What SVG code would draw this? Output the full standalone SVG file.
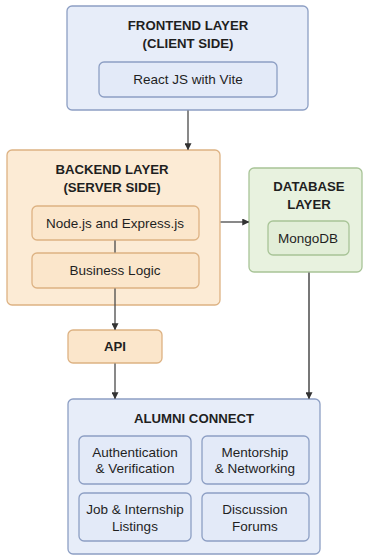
<svg xmlns="http://www.w3.org/2000/svg" width="365" height="556" viewBox="0 0 365 556">
<defs>
<style>
text{font-family:"Liberation Sans",Arial,sans-serif;fill:#1f1f1f;text-anchor:middle}
.t{font-weight:bold;font-size:13.2px}
.s{font-size:13.5px}
.blue{fill:#e7edf9;stroke:#8d9fc4;stroke-width:1.3}
.blue2{fill:#e3eaf8;stroke:#8d9fc4;stroke-width:1.3}
.org{fill:#fcebd5;stroke:#ddb283;stroke-width:1.3}
.org2{fill:#fbe6cb;stroke:#ddb283;stroke-width:1.3}
.grn{fill:#e8f2df;stroke:#a8c497;stroke-width:1.3}
.grn2{fill:#e2eed8;stroke:#a8c497;stroke-width:1.3}
.c{stroke:#4a4a4a;stroke-width:1.3;fill:none}
.g{stroke:#777;stroke-width:2;fill:none}
</style>
<marker id="a" viewBox="0 0 8 8" refX="7" refY="4" markerWidth="7" markerHeight="7" orient="auto" markerUnits="userSpaceOnUse"><path d="M0,0 L8,4 L0,8 z" fill="#333"/></marker>
</defs>
<g id="frontend">
<rect class="blue" x="67" y="6" width="241" height="104" rx="5"/>
<text class="t" x="188" y="30">FRONTEND LAYER</text>
<text class="t" x="188" y="48">(CLIENT SIDE)</text>
<g id="react">
<rect class="blue2" x="99" y="62" width="178" height="35" rx="5"/>
<text class="s" x="188" y="84">React JS with Vite</text>
</g>
</g>
<g id="backend">
<rect class="org" x="7" y="150" width="213" height="155" rx="5"/>
<text class="t" x="112" y="174">BACKEND LAYER</text>
<text class="t" x="112" y="192">(SERVER SIDE)</text>
<g id="node">
<rect class="org2" x="32" y="206" width="167" height="34" rx="5"/>
<text class="s" x="115" y="228">Node.js and Express.js</text>
</g>
<g id="logic">
<rect class="org2" x="32" y="253" width="167" height="35" rx="5"/>
<text class="s" x="115" y="275">Business Logic</text>
</g>
</g>
<g id="database">
<rect class="grn" x="249" y="168" width="113" height="104" rx="5"/>
<text class="t" x="309" y="191">DATABASE</text>
<text class="t" x="309" y="209">LAYER</text>
<g id="mongo">
<rect class="grn2" x="268" y="221" width="81" height="34" rx="5"/>
<text class="s" x="308" y="243">MongoDB</text>
</g>
</g>
<g id="api">
<rect class="org2" x="68" y="330" width="94" height="33" rx="5"/>
<text class="t" x="115" y="351">API</text>
</g>
<g id="alumni">
<rect class="blue" x="68" y="399" width="252" height="155" rx="5"/>
<text class="t" x="194" y="423">ALUMNI CONNECT</text>
<g id="auth">
<rect class="blue2" x="79" y="436" width="112" height="48" rx="5"/>
<text class="s" x="135" y="457">Authentication</text>
<text class="s" x="135" y="473">&amp; Verification</text>
</g>
<g id="mentor">
<rect class="blue2" x="202" y="436" width="107" height="48" rx="5"/>
<text class="s" x="255" y="457">Mentorship</text>
<text class="s" x="255" y="473">&amp; Networking</text>
</g>
<g id="jobs">
<rect class="blue2" x="79" y="493" width="112" height="48" rx="5"/>
<text class="s" x="135" y="514">Job &amp; Internship</text>
<text class="s" x="135" y="531">Listings</text>
</g>
<g id="forums">
<rect class="blue2" x="202" y="493" width="107" height="48" rx="5"/>
<text class="s" x="255" y="514">Discussion</text>
<text class="s" x="255" y="531">Forums</text>
</g>
</g>
<g id="connectors">
<line class="c" x1="188" y1="110.6" x2="188" y2="149.4" marker-end="url(#a)"/>
<line class="c" x1="115" y1="240.6" x2="115" y2="252.4"/>
<line class="c" x1="220.6" y1="222" x2="248.4" y2="222" marker-end="url(#a)"/>
<line class="c" x1="115" y1="288.6" x2="115" y2="329.4" marker-end="url(#a)"/>
<line class="c" x1="115" y1="363.6" x2="115" y2="398.4" marker-end="url(#a)"/>
<line class="g" x1="309" y1="272.6" x2="309" y2="398.4" marker-end="url(#a)"/>
</g>
</svg>
